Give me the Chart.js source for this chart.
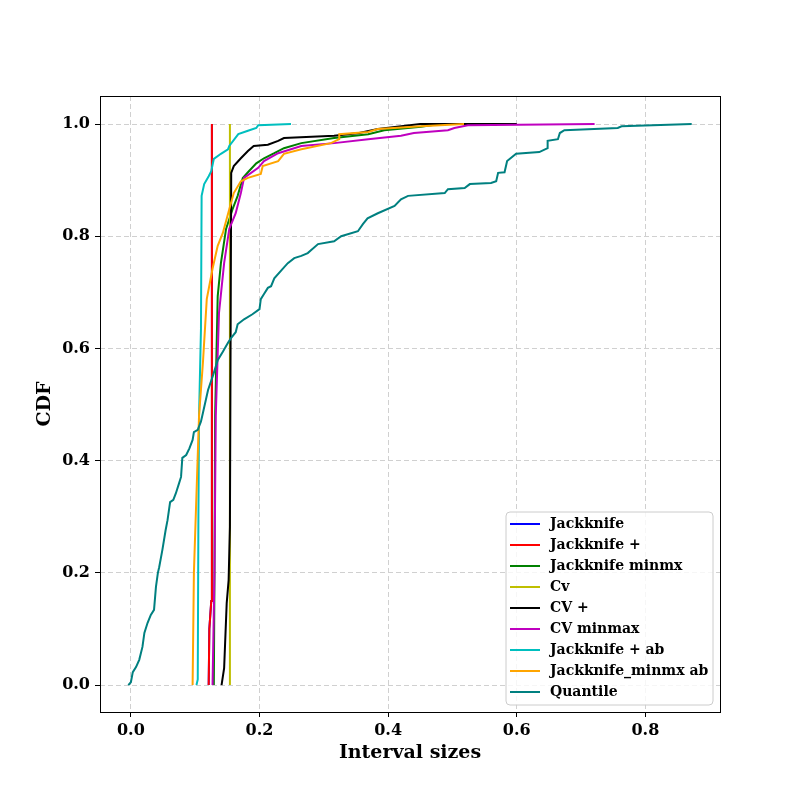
<!DOCTYPE html>
<html>
<head>
<meta charset="utf-8">
<script src="https://cdn.jsdelivr.net/npm/chart.js@4"></script>
<style>
  body { margin: 0; background: #fff; }
</style>
</head>
<body>
<canvas id="myChart" width="800" height="800"></canvas>
<script>
// CDF of interval sizes, one x/y pair of arrays per method
const jackknifeX = [0.121, 0.122, 0.125, 0.126];
const jackknifeY = [0, 0.1, 0.15, 1.0];

const jackPlusX = [0.121, 0.122, 0.125, 0.126];
const jackPlusY = [0, 0.1, 0.15, 1.0];

const jackMinmxX = [0.129, 0.130, 0.131, 0.135, 0.140, 0.148, 0.158, 0.166, 0.174, 0.182, 0.195, 0.207, 0.223, 0.238, 0.265, 0.316, 0.369, 0.394, 0.451, 0.48];
const jackMinmxY = [0, 0.2, 0.48, 0.693, 0.752, 0.813, 0.848, 0.872, 0.904, 0.914, 0.930, 0.939, 0.948, 0.957, 0.966, 0.975, 0.982, 0.989, 0.995, 1.0];

const cvX = [0.154, 0.154];
const cvY = [0, 1.0];

const cvPlusX = [0.141, 0.145, 0.149, 0.152, 0.154, 0.156, 0.160, 0.171, 0.182, 0.191, 0.213, 0.229, 0.238, 0.316, 0.355, 0.384, 0.45, 0.6];
const cvPlusY = [0, 0.030, 0.146, 0.187, 0.282, 0.913, 0.925, 0.939, 0.952, 0.961, 0.963, 0.970, 0.975, 0.979, 0.984, 0.991, 1.0, 1.0];

const cvMinmaxX = [0.127, 0.130, 0.132, 0.137, 0.145, 0.153, 0.163, 0.171, 0.176, 0.198, 0.207, 0.229, 0.265, 0.316, 0.369, 0.42, 0.44, 0.493, 0.503, 0.524, 0.721];
const cvMinmaxY = [0, 0.2, 0.48, 0.663, 0.752, 0.813, 0.841, 0.877, 0.904, 0.922, 0.934, 0.948, 0.961, 0.966, 0.973, 0.979, 0.984, 0.989, 0.993, 0.998, 1.0];

const jackPlusAbX = [0.102, 0.104, 0.105, 0.106, 0.109, 0.110, 0.114, 0.121, 0.125, 0.129, 0.140, 0.151, 0.153, 0.167, 0.182, 0.195, 0.198, 0.249];
const jackPlusAbY = [0, 0.01, 0.3, 0.480, 0.635, 0.872, 0.893, 0.907, 0.916, 0.938, 0.947, 0.955, 0.961, 0.982, 0.988, 0.993, 0.998, 1.0];

const jackMinmxAbX = [0.096, 0.098, 0.106, 0.112, 0.118, 0.121, 0.127, 0.135, 0.143, 0.153, 0.160, 0.171, 0.182, 0.202, 0.205, 0.229, 0.238, 0.265, 0.311, 0.324, 0.324, 0.369, 0.384, 0.451, 0.518];
const jackMinmxAbY = [0, 0.2, 0.48, 0.574, 0.688, 0.706, 0.742, 0.783, 0.806, 0.848, 0.877, 0.898, 0.904, 0.911, 0.925, 0.934, 0.947, 0.955, 0.966, 0.973, 0.982, 0.986, 0.991, 0.996, 1.0];

const quantileX = [-0.004, 0.0, 0.003, 0.008, 0.013, 0.018, 0.021, 0.026, 0.031, 0.036, 0.039, 0.042, 0.044, 0.049, 0.054, 0.057, 0.061, 0.066, 0.070, 0.075, 0.078, 0.080, 0.086, 0.091, 0.096, 0.098, 0.104, 0.109, 0.112,
  0.120, 0.128, 0.135, 0.143, 0.151, 0.156, 0.163, 0.166, 0.176, 0.189, 0.200, 0.202, 0.207, 0.213, 0.218, 0.223, 0.236, 0.244, 0.254, 0.265, 0.275, 0.291, 0.316, 0.327, 0.353, 0.361, 0.368, 0.384, 0.410, 0.420,
  0.431, 0.488, 0.493, 0.519, 0.527, 0.560, 0.568, 0.571, 0.581, 0.585, 0.599, 0.635, 0.648, 0.648, 0.664, 0.667, 0.674, 0.757, 0.763, 0.872];
const quantileY = [0, 0.005, 0.023, 0.032, 0.045, 0.068, 0.093, 0.111, 0.125, 0.134, 0.175, 0.2, 0.210, 0.241, 0.276, 0.294, 0.326, 0.330, 0.342, 0.360, 0.371, 0.405, 0.410, 0.422, 0.437, 0.451, 0.455, 0.470, 0.485,
  0.526, 0.553, 0.579, 0.594, 0.610, 0.619, 0.629, 0.643, 0.652, 0.661, 0.670, 0.688, 0.697, 0.708, 0.711, 0.725, 0.742, 0.752, 0.761, 0.765, 0.770, 0.786, 0.791, 0.800, 0.809, 0.822, 0.832, 0.841, 0.854, 0.866,
  0.872, 0.877, 0.884, 0.886, 0.893, 0.895, 0.898, 0.913, 0.914, 0.934, 0.947, 0.950, 0.957, 0.970, 0.973, 0.984, 0.989, 0.993, 0.996, 1.0];

const labels = ['Jackknife', 'Jackknife +', 'Jackknife minmx', 'Cv', 'CV +', 'CV minmax', 'Jackknife + ab', 'Jackknife_minmx ab', 'Quantile'];
const colors = ['#0000ff', '#ff0000', '#008000', '#bfbf00', '#000000', '#bf00bf', '#00bfbf', '#ffa500', '#008080'];
const seriesX = [jackknifeX, jackPlusX, jackMinmxX, cvX, cvPlusX, cvMinmaxX, jackPlusAbX, jackMinmxAbX, quantileX];
const seriesY = [jackknifeY, jackPlusY, jackMinmxY, cvY, cvPlusY, cvMinmaxY, jackPlusAbY, jackMinmxAbY, quantileY];

const xTicks = [0.0, 0.2, 0.4, 0.6, 0.8];
const yTicks = [0.0, 0.2, 0.4, 0.6, 0.8, 1.0];

const FONT = "'DejaVu Serif', serif";

const datasets = labels.map((lab, i) => ({
    label: lab,
    data: seriesX[i].map((x, j) => ({x: x, y: seriesY[i][j]})),
    borderColor: colors[i],
    backgroundColor: colors[i],
    borderWidth: 2,
    pointRadius: 0,
    showLine: true,
    tension: 0,
    fill: false,
    order: labels.length - i  // later series on top, like matplotlib
}));

// frame + legend box inside the axes
const framePlugin = {
    id: 'frame',
    afterDatasetsDraw(chart) {
        const {ctx, chartArea: a} = chart;
        ctx.save();
        ctx.strokeStyle = '#000';
        ctx.lineWidth = 1;
        ctx.strokeRect(a.left + 0.5, a.top + 0.5, a.right - a.left, a.bottom - a.top);
        ctx.restore();
    },
    afterDraw(chart) {
        const ctx = chart.ctx;
        const bx = 506, by = 512, bw = 207, bh = 193, r = 4;
        ctx.save();
        ctx.beginPath();
        ctx.moveTo(bx + r, by);
        ctx.arcTo(bx + bw, by, bx + bw, by + bh, r);
        ctx.arcTo(bx + bw, by + bh, bx, by + bh, r);
        ctx.arcTo(bx, by + bh, bx, by, r);
        ctx.arcTo(bx, by, bx + bw, by, r);
        ctx.closePath();
        ctx.fillStyle = 'rgba(255,255,255,0.8)';
        ctx.fill();
        ctx.strokeStyle = '#cccccc';
        ctx.lineWidth = 1;
        ctx.stroke();

        ctx.font = 'bold 14px ' + FONT;
        ctx.textBaseline = 'middle';
        ctx.fillStyle = '#000';
        labels.forEach((lab, i) => {
            const y = 524 + i * 21;
            ctx.strokeStyle = colors[i];
            ctx.lineWidth = 2;
            ctx.beginPath();
            ctx.moveTo(510, y);
            ctx.lineTo(540, y);
            ctx.stroke();
            ctx.fillText(lab, 550, y);
        });
        ctx.restore();
    }
};

const gridOpts = {
    color: '#d0d0d0',
    lineWidth: 1,
    drawTicks: true,
    tickLength: 5,
    tickColor: '#000',
    tickBorderDash: [],
    tickWidth: 1
};
// in v4 the grid dash lives under border
const borderOpts = {display: false, dash: [5, 3]};

const ctx = document.getElementById('myChart').getContext('2d');
const myChart = new Chart(ctx, {
    type: 'scatter',
    data: {datasets: datasets},
    plugins: [framePlugin],
    options: {
        responsive: false,
        animation: false,
        devicePixelRatio: 1,
        layout: {padding: {top: 96, right: 80, left: 0, bottom: 0}},
        plugins: {legend: {display: false}, tooltip: {enabled: false}},
        scales: {
            x: {
                type: 'linear',
                min: -0.048,
                max: 0.916,
                afterBuildTicks: s => { s.ticks = xTicks.map(v => ({value: v})); },
                afterFit: s => { s.height = 88; },
                grid: gridOpts,
                border: borderOpts,
                ticks: {
                    color: '#000',
                    padding: 4,
                    maxRotation: 0,
                    font: {family: FONT, size: 16, weight: 'bold'},
                    callback: v => v.toFixed(1)
                },
                title: {
                    display: true,
                    text: 'Interval sizes',
                    color: '#000',
                    font: {family: FONT, size: 19, weight: 'bold'},
                    padding: {top: 0, bottom: 36}
                }
            },
            y: {
                type: 'linear',
                min: -0.048,
                max: 1.05,
                afterBuildTicks: s => { s.ticks = yTicks.map(v => ({value: v})); },
                afterFit: s => { s.width = 100; },
                grid: gridOpts,
                border: borderOpts,
                ticks: {
                    color: '#000',
                    padding: 5,
                    font: {family: FONT, size: 16, weight: 'bold'},
                    callback: v => v.toFixed(1)
                },
                title: {
                    display: true,
                    text: 'CDF',
                    color: '#000',
                    font: {family: FONT, size: 19, weight: 'bold'},
                    padding: {top: 34, bottom: 0}
                }
            }
        }
    }
});
</script>
</body>
</html>
